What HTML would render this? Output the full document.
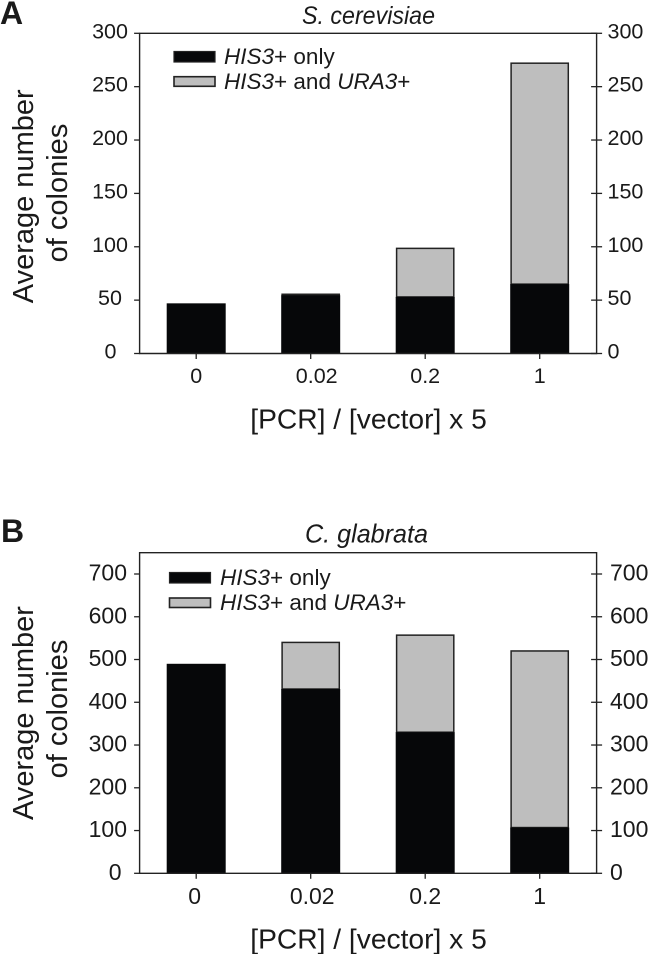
<!DOCTYPE html>
<html lang="en">
<head>
<meta charset="utf-8">
<title>Average number of colonies: S. cerevisiae and C. glabrata</title>
<style>
html,body{margin:0;padding:0;background:#fff;}
svg{display:block;}
text{font-family:"Liberation Sans",Arial,sans-serif;fill:#1a1a1a;}
</style>
</head>
<body>
<svg id="figure" xmlns="http://www.w3.org/2000/svg" width="648" height="954" viewBox="0 0 648 954">
  <rect width="648" height="954" fill="#fff"/>

  <text x="0" y="24" font-size="32" font-weight="bold">A</text>
  <text x="302" y="24" font-size="25" font-style="italic" textLength="133" lengthAdjust="spacingAndGlyphs">S. cerevisiae</text>
  <text transform="translate(33,196.3) rotate(-90)" text-anchor="middle" font-size="29">Average number</text>
  <text transform="translate(67,193) rotate(-90)" text-anchor="middle" font-size="29">of colonies</text>
  <text x="368.5" y="428.3" text-anchor="middle" font-size="28.2">[PCR] / [vector] x 5</text>
  <g>
    <rect x="174" y="51.5" width="41" height="10.5" fill="#060709" stroke="#222" stroke-width="1.2"/>
    <text x="224" y="64" font-size="22.5"><tspan font-style="italic">HIS3</tspan>+ only</text>
    <rect x="174" y="76.7" width="41" height="9.6" fill="#bebebe" stroke="#222" stroke-width="1.6"/>
    <text x="224" y="89" font-size="22.5"><tspan font-style="italic">HIS3</tspan>+ and <tspan font-style="italic">URA3</tspan>+</text>
  </g>

  <text x="1" y="542" font-size="32" font-weight="bold">B</text>
  <text x="305" y="542.5" font-size="26" font-style="italic" textLength="123" lengthAdjust="spacingAndGlyphs">C. glabrata</text>
  <text transform="translate(33,713) rotate(-90)" text-anchor="middle" font-size="29">Average number</text>
  <text transform="translate(67,709) rotate(-90)" text-anchor="middle" font-size="29">of colonies</text>
  <text x="368.5" y="948.3" text-anchor="middle" font-size="28.2">[PCR] / [vector] x 5</text>
  <g>
    <rect x="169.5" y="572.5" width="41" height="10.5" fill="#060709" stroke="#222" stroke-width="1.2"/>
    <text x="220" y="585" font-size="22.5"><tspan font-style="italic">HIS3</tspan>+ only</text>
    <rect x="169.5" y="598" width="41" height="9.5" fill="#bebebe" stroke="#222" stroke-width="1.6"/>
    <text x="220" y="610" font-size="22.5"><tspan font-style="italic">HIS3</tspan>+ and <tspan font-style="italic">URA3</tspan>+</text>
  </g>

  <g id="panel-a"></g>
  <g id="panel-b"></g>
</svg>
<script>
const categories = ['0', '0.02', '0.2', '1'];
const cerevisiaeTicks = [0, 50, 100, 150, 200, 250, 300];
const cerevisiaeHisOnly = [47, 54.5, 53, 65];
const cerevisiaeHisUra = [0, 1, 45.5, 207];
const glabrataTicks = [0, 100, 200, 300, 400, 500, 600, 700];
const glabrataHisOnly = [490, 431, 330, 107];
const glabrataHisUra = [0, 109, 227, 413];

const SVG_NS = 'http://www.w3.org/2000/svg';
const AXIS_COLOR = '#222';

function shape(tag, parent, props) {
  const el = document.createElementNS(SVG_NS, tag);
  for (const key in props) el.setAttribute(key, props[key]);
  parent.appendChild(el);
  return el;
}

function drawPanel(id, cfg, ticks, hisOnly, hisUra) {
  const g = document.getElementById(id);
  const left = 139.6, right = 596.6;
  const yScale = v => cfg.bottom - v * cfg.pxPerUnit;
  const step = 114.5;
  const xScale = i => 196.2 + i * step;
  const barW = 59;

  categories.forEach((cat, i) => {
    const x = xScale(i) - barW / 2;
    const base = yScale(0);
    const blackTop = yScale(hisOnly[i]);
    const total = hisOnly[i] + hisUra[i];
    if (hisUra[i] > 0) {
      const upper = shape('rect', g, {
        x: x + 0.9, y: yScale(total), width: barW - 1.8, height: blackTop - yScale(total),
        fill: '#bebebe', stroke: AXIS_COLOR, 'stroke-width': 1.5
      });
      
      
    }
    const lower = shape('rect', g, {
      x: x, y: blackTop, width: barW, height: base - blackTop, fill: '#060709'
    });
    
    

    const tick = shape('line', g, {
      x1: xScale(i), x2: xScale(i), y1: base, y2: base + 5.5, stroke: AXIS_COLOR, 'stroke-width': 1.3
    });
    
    

    const label = shape('text', g, {
      x: xScale(i) + (cat === '0.02' ? cfg.midLabelShift : 0) - (cat === '0' ? cfg.zeroLabelShift : 0),
      y: cfg.xLabelY, 'text-anchor': 'middle', 'font-size': cfg.fontSize
    });
    label.textContent = cat;
    
    
  });

  const frame = shape('path', g, {
    d: 'M' + left + ' ' + cfg.top + 'H' + right + 'V' + yScale(0) + 'H' + left + 'Z',
    fill: 'none', stroke: AXIS_COLOR, 'stroke-width': 1.4
  });
  
  

  ticks.forEach(v => {
    const y = yScale(v);
    const leftTick = shape('line', g, {
      x1: left - 5.5, x2: left, y1: y, y2: y, stroke: AXIS_COLOR, 'stroke-width': 1.3
    });
    
    

    const rightTick = shape('line', g, {
      x1: right - 5.5, x2: right + 5.5, y1: y, y2: y, stroke: AXIS_COLOR, 'stroke-width': 1.3
    });
    
    

    const leftLabel = shape('text', g, {
      x: v === 0 ? cfg.zeroLabelX : cfg.leftLabelX, y: y + cfg.labelDrop,
      'text-anchor': cfg.leftAnchor, 'font-size': cfg.fontSize
    });
    leftLabel.textContent = String(v);
    
    

    const rightLabel = shape('text', g, {
      x: cfg.rightLabelX, y: y + cfg.labelDrop, 'font-size': cfg.fontSize
    });
    rightLabel.textContent = String(v);
    
    
  });
}

drawPanel('panel-a', {
  top: 33.3, bottom: 353.5, pxPerUnit: 320.2 / 300, xLabelY: 383,
  leftLabelX: 110, zeroLabelX: 110.5, leftAnchor: 'middle', rightLabelX: 607.5,
  fontSize: 21.5, labelDrop: 5, midLabelShift: 6, zeroLabelShift: 0
}, cerevisiaeTicks, cerevisiaeHisOnly, cerevisiaeHisUra);

drawPanel('panel-b', {
  top: 552.7, bottom: 873.3, pxPerUnit: 299.3 / 700, xLabelY: 904,
  leftLabelX: 127, zeroLabelX: 121.5, leftAnchor: 'end', rightLabelX: 610,
  fontSize: 23, labelDrop: 6.5, midLabelShift: 1.5, zeroLabelShift: 1.5
}, glabrataTicks, glabrataHisOnly, glabrataHisUra);
</script>
</body>
</html>
